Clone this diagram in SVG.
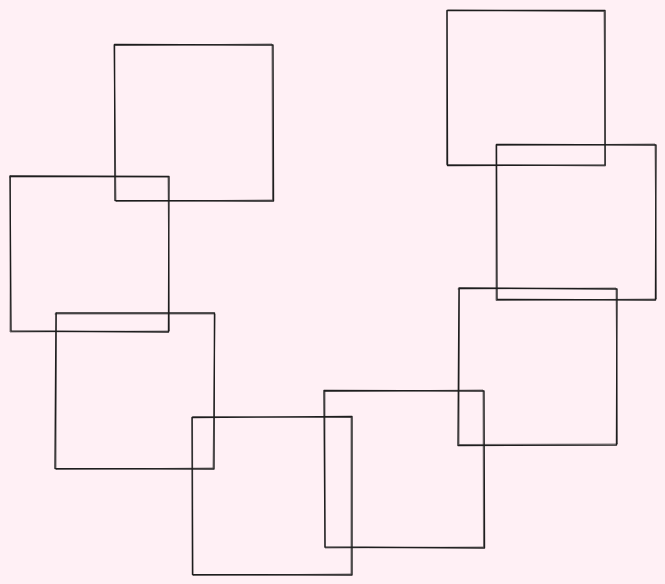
<svg xmlns="http://www.w3.org/2000/svg" width="665" height="584" viewBox="0 0 665 584">
<style>
.s{fill:none;stroke:#1e1e1e;stroke-width:1.4;stroke-linecap:round;stroke-linejoin:round}
.t{fill:none;stroke:#1e1e1e;stroke-width:0.9;stroke-opacity:0.65;stroke-linecap:round}
</style>
<rect width="665" height="584" fill="#fff0f5"/>
<g id="sq1"><path class="s" d="M114.5 44.5 L273 45 L273.5 201 L115 200.5 Z"/><path class="t" d="M115.5 45.5 L272 44 L272.5 200 L116 201.5 L114 45"/></g>
<g id="sq2"><path class="s" d="M10 176 L169 176.5 L168.5 332 L11 331 Z"/><path class="t" d="M9.5 177 L168 177 L169.5 331 L10 332 L10.5 176"/></g>
<g id="sq3"><path class="s" d="M56 313 L214.5 313 L214 469 L55 468.5 Z"/><path class="t" d="M55 314 L215 314 L213 468 L56 469.5 L56.5 313"/></g>
<g id="sq4"><path class="s" d="M192 417.5 L352 416.5 L352 575 L192.5 574.5 Z"/><path class="t" d="M193 416.5 L351 417.5 L351 574 L193 575.5 L192.5 417"/></g>
<g id="sq5"><path class="s" d="M324 390.5 L484 391 L484.5 548 L325 547 Z"/><path class="t" d="M324.5 391.5 L483 390 L483.5 547 L325 548 L325 390.5"/></g>
<g id="sq6"><path class="s" d="M459 288 L617 289 L616.5 445 L458 445.5 Z"/><path class="t" d="M458 289 L616 288 L617.5 444 L459 444.5 L459.5 288.5"/></g>
<g id="sq7"><path class="s" d="M496.5 144.5 L656 145 L655.5 300 L497 299.5 Z"/><path class="t" d="M497 145.5 L655 144 L656.5 299 L496 300.5 L496 145"/></g>
<g id="sq8"><path class="s" d="M447 10.5 L605 10.5 L605 165 L447.5 165.5 Z"/><path class="t" d="M448 10 L604 11.5 L605.5 166 L446.5 164.5 L447 11"/></g>
<g id="connectors"></g>
</svg>
